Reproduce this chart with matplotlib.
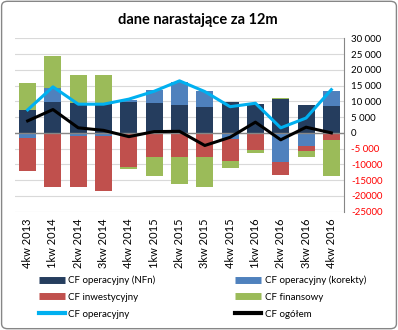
import matplotlib
matplotlib.use("Agg")
import matplotlib.pyplot as plt
import numpy as np
from matplotlib.lines import Line2D
from matplotlib.patches import FancyBboxPatch
from matplotlib.ticker import FuncFormatter

plt.rcParams['font.family'] = ['Lato', 'DejaVu Sans']

quarters = ["4kw 2013", "1kw 2014", "2kw 2014", "3kw 2014", "4kw 2014",
            "1kw 2015", "2kw 2015", "3kw 2015", "4kw 2015", "1kw 2016",
            "2kw 2016", "3kw 2016", "4kw 2016"]
cf_nfn = [7300, 9700, 9400, 9200, 9700, 9400, 8900, 8300, 9900, 9200, 10700, 8900, 8600]
cf_korekty = [-1600, 4500, -900, -1000, 800, 4300, 7300, 5100, -2100, 0, -9300, -4300, 4800]
cf_inwest = [-10500, -17200, -16300, -17400, -10900, -7800, -7600, -7800, -6900, -5400, -4200, -1500, -2200]
cf_finans = [8400, 10200, 9000, 9200, -600, -5900, -8700, -9400, -2200, -1000, 400, -1900, -11500]
cf_oper_line = [7300, 14600, 9100, 9100, 10700, 13200, 16500, 13100, 8300, 9400, 1600, 4700, 13700]
cf_total_line = [3800, 7400, 1600, 800, -1200, 400, 500, -4000, -1400, 3400, -2200, 1800, 0]

c_nfn = "#253D5E"
c_kor = "#4F81BD"
c_inw = "#C0504D"
c_fin = "#9BBB59"
c_oper = "#00B0F0"
c_tot = "#000000"

fig = plt.figure(figsize=(3.98, 3.30), dpi=100)
ax = fig.add_axes([0.0377, 0.3585, 0.8266, 0.5255])

x = np.arange(len(quarters))
pos_bottom = np.zeros(len(x))
neg_bottom = np.zeros(len(x))
for vals, col in [(cf_nfn, c_nfn), (cf_korekty, c_kor), (cf_inwest, c_inw), (cf_finans, c_fin)]:
    v = np.array(vals, dtype=float)
    bottoms = np.where(v >= 0, pos_bottom, neg_bottom)
    ax.bar(x, v, 0.67, bottom=bottoms, color=col, zorder=2)
    pos_bottom += np.where(v >= 0, v, 0)
    neg_bottom += np.where(v < 0, v, 0)

ax.axhline(0, color="#868686", lw=1, zorder=3)
ax.plot(x, cf_oper_line, color=c_oper, lw=2.2, zorder=4)
ax.plot(x, cf_total_line, color=c_tot, lw=2.2, zorder=5)

ax.set_xlim(-0.5, 12.5)
ax.set_ylim(-25000, 30000)
ax.set_yticks(np.arange(-25000, 30001, 5000))
ax.grid(axis="y", color="#D9D9D9", lw=0.8, zorder=0)
ax.set_axisbelow(True)

def fmt(v, pos):
    v = int(round(v))
    if v == 0:
        return "0"
    if abs(v) < 10000:
        return ("-" if v < 0 else "") + "{} 000".format(abs(v) // 1000)
    if v < 0:
        return "-{}".format(abs(v))
    return "{} 000".format(v // 1000)

ax.yaxis.set_major_formatter(FuncFormatter(fmt))
ax.yaxis.tick_right()
ax.tick_params(axis="y", length=0, pad=5, labelsize=7)
for lab, val in zip(ax.get_yticklabels(), ax.get_yticks()):
    lab.set_color("#FF0000" if val < 0 else "black")

ax.set_xticks(x)
ax.set_xticklabels(quarters, rotation=90, fontsize=8)
ax.tick_params(axis="x", length=0, pad=5)

for s in ["top", "left", "bottom"]:
    ax.spines[s].set_visible(False)
ax.spines["right"].set_color("#868686")

fig.text(0.497, 0.94, "dane narastające za 12m", ha="center", va="center",
         fontsize=10.5, fontweight="bold")

handles = [
    Line2D([], [], color=c_nfn, lw=5, solid_capstyle="butt"),
    Line2D([], [], color=c_inw, lw=5, solid_capstyle="butt"),
    Line2D([], [], color=c_oper, lw=3),
    Line2D([], [], color=c_kor, lw=5, solid_capstyle="butt"),
    Line2D([], [], color=c_fin, lw=5, solid_capstyle="butt"),
    Line2D([], [], color=c_tot, lw=3),
]
labels = ["CF operacyjny (NFn)", "CF inwestycyjny", "CF operacyjny",
          "CF operacyjny (korekty)", "CF finansowy", "CF ogółem"]
fig.legend(handles, labels, ncol=2, loc="upper left", bbox_to_anchor=(0.097, 0.165),
           frameon=False, fontsize=7, handlelength=2.7, handletextpad=0.35,
           columnspacing=8.2, labelspacing=0.8, borderpad=0, borderaxespad=0)

border = FancyBboxPatch((0.004, 0.004), 0.992, 0.992, boxstyle="round,pad=0,rounding_size=0.015",
                        transform=fig.transFigure, fill=False, edgecolor="#868686", lw=1)
fig.patches.append(border)

fig.savefig("out.png", dpi=100)
